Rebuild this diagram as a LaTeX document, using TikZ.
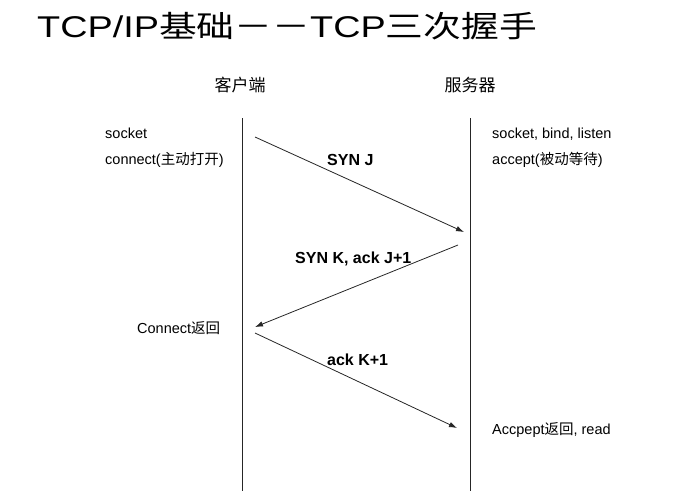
\documentclass[tikz,border=0pt]{standalone}
\usepackage{fontspec}
\setmainfont{Liberation Sans}
\newfontfamily\cjk{Noto Sans CJK SC}
\usetikzlibrary{arrows.meta}

\begin{document}
\begin{tikzpicture}[x=1pt,y=-1pt,>={Latex[length=8pt,width=5.5pt]},
  lbl/.style={anchor=base west,inner sep=0pt,font=\fontsize{14.5}{16}\selectfont},
  msg/.style={anchor=base west,inner sep=0pt,font=\fontsize{16}{18}\selectfont\bfseries},
  side/.style={inner sep=0pt,font=\fontsize{17}{19}\selectfont\cjk},
  lifeline/.style={line width=1pt,black!85},
  packet/.style={->,line width=0.8pt,black!85}]
\useasboundingbox (0,0) rectangle (687,491);

% Title, stretched sideways like the slide.
\node[anchor=base west,inner sep=0pt] (title) at (37,37)
  {\scalebox{1.26}[1]{\fontsize{30}{32}\selectfont TCP/IP{\cjk 基础－－}TCP{\cjk 三次握手}}};

% Client and server with their time lines.
\node[side] (client) at (240,85) {客户端};
\node[side] (server) at (470,85) {服务器};
\coordinate (cTop) at (242,118);
\coordinate (cBot) at (242,491);
\coordinate (sTop) at (470,118);
\coordinate (sBot) at (470,491);
\draw[lifeline] (cTop) -- (cBot);
\draw[lifeline] (sTop) -- (sBot);

% Segments exchanged in the handshake.
\coordinate (synOut) at (255,137);
\coordinate (synIn) at (464,232);
\coordinate (synackOut) at (458,245);
\coordinate (synackIn) at (255,327);
\coordinate (ackOut) at (255,333);
\coordinate (ackIn) at (457,428);
\draw[packet] (synOut) -- (synIn);
\draw[packet] (synackOut) -- (synackIn);
\draw[packet] (ackOut) -- (ackIn);
\node[msg] (synJ) at (327,165) {SYN J};
\node[msg] (synK) at (295,263) {SYN K, ack J+1};
\node[msg] (ackK) at (327,365) {ack K+1};

% Calls on each side.
\node[lbl] (cSocket) at (105,138) {socket};
\node[lbl] (cConnect) at (105,164) {connect({\cjk 主动打开})};
\node[lbl] (cReturn) at (137,333) {Connect{\cjk 返回}};
\node[lbl] (sSocket) at (492,138) {socket, bind, listen};
\node[lbl] (sAccept) at (492,164) {accept({\cjk 被动等待})};
\node[lbl] (sReturn) at (492,434) {Accpept{\cjk 返回}, read};
\end{tikzpicture}
\end{document}
